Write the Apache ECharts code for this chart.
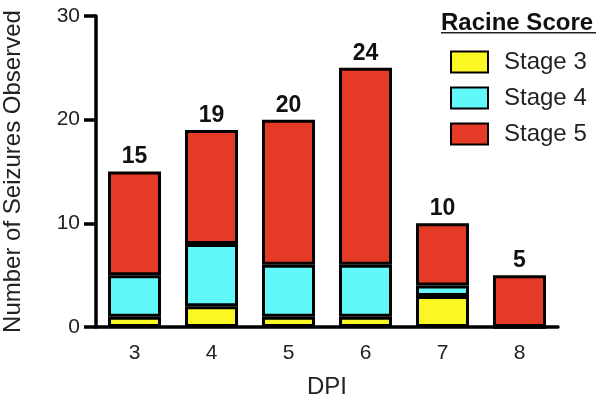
<!DOCTYPE html>
<html>
<head>
<meta charset="utf-8">
<script src="https://cdn.jsdelivr.net/npm/echarts@6/dist/echarts.min.js"></script>
<style>
  html, body { margin: 0; padding: 0; background: #fff; }
  #main { width: 600px; height: 405px; }
</style>
</head>
<body>
<div id="main"></div>
<script>
    // days post infection
    var dpi = ['3', '4', '5', '6', '7', '8'];
    var stage3 = [1, 2, 1, 1, 3, 0];
    var stage4 = [4, 6, 5, 5, 1, 0];
    var stage5 = [10, 11, 14, 19, 6, 5];
    // numbers printed above each bar
    var totals = [15, 19, 20, 24, 10, 5];

    (function() {
        'use strict';

        var font = '"Liberation Sans", Arial, Helvetica, sans-serif';
        var myChart = echarts.init(document.getElementById('main'));

        function barSeries(name, data, color) {
            return {
                name: name,
                type: 'bar',
                stack: 'racine',
                data: data,
                barWidth: 53,
                itemStyle: { color: color, borderColor: '#000', borderWidth: 3 }
            };
        }

        var topSeries = barSeries('Stage 5', stage5, '#e53a25');
        topSeries.label = {
            show: true,
            position: 'top',
            distance: 3,
            fontFamily: font,
            fontWeight: 'bold',
            fontSize: 23,
            color: '#111',
            formatter: function(p) { return totals[p.dataIndex]; }
        };

        var option = {
            animation: false,
            textStyle: { fontFamily: font },
            grid: { left: 96, right: 42, top: 16, bottom: 78, outerBoundsMode: 'none' },
            legend: {
                data: ['Stage 3', 'Stage 4', 'Stage 5'],
                orient: 'vertical',
                left: 450,
                top: 50,
                padding: 0,
                icon: 'rect',
                itemWidth: 37,
                itemHeight: 21,
                itemGap: 12,
                textStyle: { fontFamily: font, fontSize: 24, color: '#222', padding: [0, 0, 0, 11] }
            },
            graphic: [
                {
                    type: 'text',
                    left: 441,
                    top: 11,
                    style: { text: 'Racine Score', font: 'bold 24px ' + font, fill: '#111' }
                },
                {
                    type: 'rect',
                    left: 441,
                    top: 32,
                    shape: { width: 155, height: 1.5 },
                    style: { fill: '#222' }
                }
            ],
            xAxis: {
                type: 'category',
                data: dpi,
                name: 'DPI',
                nameLocation: 'middle',
                nameGap: 48,
                nameTextStyle: { fontFamily: font, fontSize: 24, color: '#222' },
                axisLine: { lineStyle: { color: '#000', width: 3.5 } },
                axisTick: { alignWithLabel: true, length: 9, lineStyle: { color: '#000', width: 3.5 } },
                axisLabel: { fontFamily: font, fontSize: 21, color: '#222', margin: 16 }
            },
            yAxis: {
                type: 'value',
                min: 0,
                max: 30,
                interval: 10,
                name: 'Number of Seizures Observed',
                nameLocation: 'middle',
                nameGap: 71,
                nameTextStyle: { fontFamily: font, fontSize: 24, color: '#222' },
                splitLine: { show: false },
                axisLine: { show: true, lineStyle: { color: '#000', width: 3.5 } },
                axisTick: { show: true, length: 12, lineStyle: { color: '#000', width: 3.5 } },
                axisLabel: { fontFamily: font, fontSize: 21, color: '#222', margin: 16 }
            },
            series: [
                barSeries('Stage 3', stage3, '#fbf724'),
                barSeries('Stage 4', stage4, '#62f8fa'),
                topSeries
            ]
        };

        myChart.setOption(option);
    })();
</script>
</body>
</html>
